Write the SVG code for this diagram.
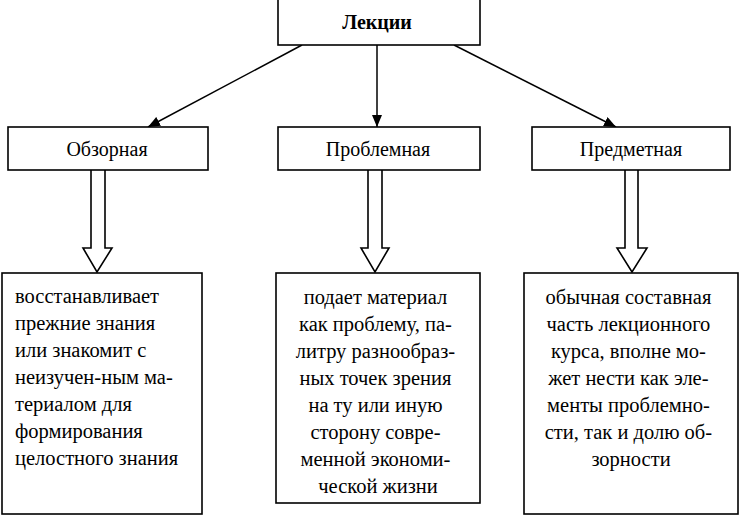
<svg xmlns="http://www.w3.org/2000/svg" width="740" height="516" viewBox="0 0 740 516">
<style>
.box{fill:#fff;stroke:#000;stroke-width:1.6}
.t{font-family:'Liberation Serif','DejaVu Serif','Times New Roman',serif;fill:#000}
.h{font-size:20px;text-anchor:middle}
.b{font-size:20.5px}
.c{text-anchor:middle}
.ln{stroke:#000;stroke-width:1.5;fill:none}
.blk{fill:#fff;stroke:#000;stroke-width:1.6;stroke-linejoin:miter}
</style>
<defs>
<marker id="ah" markerWidth="12" markerHeight="10" refX="12" refY="5" orient="auto" markerUnits="userSpaceOnUse">
<path d="M0,0 L12,5 L0,10 Z" fill="#000"/>
</marker>
</defs>
<rect width="740" height="516" fill="#fff"/>
<g id="connectors">
<line class="ln" x1="302" y1="45" x2="148" y2="127" marker-end="url(#ah)"/>
<line class="ln" x1="377" y1="45" x2="377" y2="127" stroke-width="2.2" marker-end="url(#ah)"/>
<line class="ln" x1="454" y1="45" x2="616" y2="127" marker-end="url(#ah)"/>
<path class="blk" d="M91,170 L91,248 L83,248 L97,272 L112,248 L105,248 L105,170"/>
<path class="blk" d="M368,170 L368,248 L361,248 L375,272 L389,248 L382,248 L382,170"/>
<path class="blk" d="M625,170 L625,248 L617,248 L632,272 L647,248 L638,248 L638,170"/>
</g>
<g id="lectures">
<rect class="box" x="278" y="-1" width="202" height="46"/>
<text class="t h" x="377" y="29" font-weight="bold" font-family="Liberation Serif, serif">Лекции</text>
</g>
<g id="overview">
<rect class="box" x="8" y="127" width="200" height="43"/>
<text class="t h" x="107" y="156" font-family="Liberation Serif, serif">Обзорная</text>
</g>
<g id="problem">
<rect class="box" x="278" y="127" width="202" height="43"/>
<text class="t h" x="378" y="156" font-family="Liberation Serif, serif">Проблемная</text>
</g>
<g id="subject">
<rect class="box" x="532" y="127" width="198" height="43"/>
<text class="t h" x="631" y="156" font-family="Liberation Serif, serif">Предметная</text>
</g>
<g id="overview-desc">
<rect class="box" x="2" y="273" width="200" height="241"/>
<text class="t b" x="15" y="303" font-family="Liberation Serif, serif">
<tspan x="15" y="303">восстанавливает</tspan>
<tspan x="15" y="330">прежние знания</tspan>
<tspan x="15" y="357">или знакомит с</tspan>
<tspan x="15" y="384">неизучен-ным ма-</tspan>
<tspan x="15" y="411">териалом для</tspan>
<tspan x="15" y="438">формирования</tspan>
<tspan x="15" y="465">целостного знания</tspan>
</text>
</g>
<g id="problem-desc">
<rect class="box" x="276" y="273" width="204" height="230"/>
<text class="t b c" x="378" y="304" font-family="Liberation Serif, serif">
<tspan x="378" y="304">подает материал</tspan>
<tspan x="378" y="331">как проблему, па-</tspan>
<tspan x="378" y="358">литру разнообраз-</tspan>
<tspan x="378" y="385">ных точек зрения</tspan>
<tspan x="378" y="412">на ту или иную</tspan>
<tspan x="378" y="439">сторону совре-</tspan>
<tspan x="378" y="466">менной экономи-</tspan>
<tspan x="378" y="493">ческой жизни</tspan>
</text>
</g>
<g id="subject-desc">
<rect class="box" x="524" y="273" width="214" height="241"/>
<text class="t b c" x="631" y="304" font-family="Liberation Serif, serif">
<tspan x="631" y="304">обычная составная</tspan>
<tspan x="631" y="331">часть лекционного</tspan>
<tspan x="631" y="358">курса, вполне мо-</tspan>
<tspan x="631" y="385">жет нести как эле-</tspan>
<tspan x="631" y="412">менты проблемно-</tspan>
<tspan x="631" y="439">сти, так и долю об-</tspan>
<tspan x="631" y="466">зорности</tspan>
</text>
</g>
</svg>
